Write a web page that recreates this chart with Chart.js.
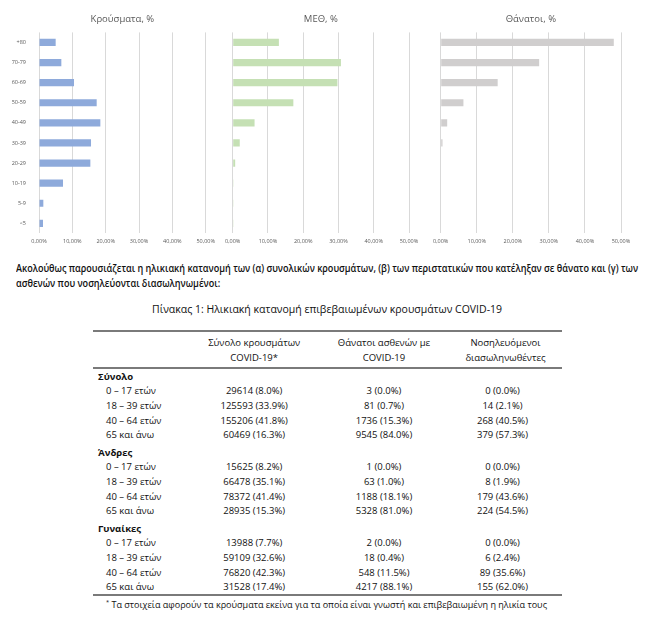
<!DOCTYPE html>
<html lang="el">
<head>
<meta charset="utf-8">
<script src="https://cdn.jsdelivr.net/npm/chart.js@4.4.1/dist/chart.umd.min.js"></script>
<style>
    body { margin: 0; background: #fff; font-family: "Open Sans", "Noto Sans", sans-serif; color: #111; }
    #page { position: relative; width: 650px; height: 628px; overflow: hidden; }
    canvas { position: absolute; top: 0; }
    .fit { position: absolute; white-space: nowrap; transform-origin: 0 50%; }
    #intro { left: 16px; top: 261px; font-size: 10px; font-weight: 600; line-height: 14.5px; }
    #table-title { top: 301px; font-size: 11px; font-weight: 500; }
    #stats { position: absolute; left: 93px; top: 330px; width: 469px; border-collapse: collapse; font-size: 9.5px; font-weight: 500; }
    #stats th { font-weight: 500; line-height: 15px; padding: 3px 0 2px; text-align: center; }
    #stats thead tr { border-top: 2px solid #7a7a7a; border-bottom: 2px solid #7a7a7a; }
    #stats tbody tr:last-child { border-bottom: 2px solid #7a7a7a; }
    #stats td { height: 14.6px; padding: 0; text-align: center; white-space: nowrap; }
    #stats td.lbl { text-align: left; padding-left: 13px; }
    #stats td.grp { font-weight: bold; padding-left: 5px; text-align: left; }
    #stats tr.gap td { padding-top: 3px; }
    #stats td.c3 { padding-right: 6px; }
    #footnote { left: 106px; top: 598px; font-size: 9.5px; font-weight: 500; }
    #footnote sup { font-size: 6px; }
</style>
</head>
<body>
<div id="page">
    <canvas id="cases-chart" width="220" height="255" style="left:0px"></canvas>
    <canvas id="icu-chart" width="208" height="255" style="left:220px"></canvas>
    <canvas id="deaths-chart" width="222" height="255" style="left:428px"></canvas>

    <div id="intro" class="fit" data-w="622">Ακολούθως παρουσιάζεται η ηλικιακή κατανομή των (α) συνολικών κρουσμάτων, (β) των περιστατικών που κατέληξαν σε θάνατο και (γ) των<br>ασθενών που νοσηλεύονται διασωληνωμένοι:</div>
    <div id="table-title" class="fit" data-w="350" data-cx="327">Πίνακας 1: Ηλικιακή κατανομή επιβεβαιωμένων κρουσμάτων COVID-19</div>

    <table id="stats">
        <thead><tr id="stats-head"></tr></thead>
        <tbody id="stats-body"></tbody>
    </table>
    <div id="footnote" class="fit" data-w="441"><sup>*</sup> Τα στοιχεία αφορούν τα κρούσματα εκείνα για τα οποία είναι γνωστή και επιβεβαιωμένη η ηλικία τους</div>
</div>

<script>
// age groups, top to bottom as in the charts
const ageGroups = ['+80', '70-79', '60-69', '50-59', '40-49', '30-39', '20-29', '10-19', '5-9', '<5'];
const casesPct = [5.0, 6.7, 10.5, 17.3, 18.4, 15.6, 15.4, 7.2, 1.3, 1.2];
const icuPct = [13.1, 30.7, 29.7, 17.2, 6.2, 2.0, 0.7, 0.2, 0.05, 0.05];
const deathsPct = [48.0, 27.3, 15.8, 6.3, 1.8, 0.5, 0, 0, 0, 0];
const xTicks = [0, 10, 20, 30, 40, 50];

// table 1
const tableHeaders = ['', 'Σύνολο κρουσμάτων<br>COVID-19*', 'Θάνατοι ασθενών με<br>COVID-19', 'Νοσηλευόμενοι<br>διασωληνωθέντες'];
const groups = ['Σύνολο', 'Άνδρες', 'Γυναίκες'];
const ageBands = ['0 – 17 ετών', '18 – 39 ετών', '40 – 64 ετών', '65 και άνω'];
const totalCases = ['29614 (8.0%)', '125593 (33.9%)', '155206 (41.8%)', '60469 (16.3%)'];
const totalDeaths = ['3 (0.0%)', '81 (0.7%)', '1736 (15.3%)', '9545 (84.0%)'];
const totalIntubated = ['0 (0.0%)', '14 (2.1%)', '268 (40.5%)', '379 (57.3%)'];
const menCases = ['15625 (8.2%)', '66478 (35.1%)', '78372 (41.4%)', '28935 (15.3%)'];
const menDeaths = ['1 (0.0%)', '63 (1.0%)', '1188 (18.1%)', '5328 (81.0%)'];
const menIntubated = ['0 (0.0%)', '8 (1.9%)', '179 (43.6%)', '224 (54.5%)'];
const womenCases = ['13988 (7.7%)', '59109 (32.6%)', '76820 (42.3%)', '31528 (17.4%)'];
const womenDeaths = ['2 (0.0%)', '18 (0.4%)', '548 (11.5%)', '4217 (88.1%)'];
const womenIntubated = ['0 (0.0%)', '6 (2.4%)', '89 (35.6%)', '155 (62.0%)'];

function makeBarChart(id, title, values, color, showLabels, yWidth, rightPad) {
    const ctx = document.getElementById(id).getContext('2d');
    return new Chart(ctx, {
        type: 'bar',
        data: {
            labels: ageGroups,
            datasets: [{
                data: values,
                backgroundColor: color,
                categoryPercentage: 1,
                barPercentage: 0.36
            }]
        },
        options: {
            indexAxis: 'y',
            responsive: false,
            animation: false,
            layout: { padding: { left: 0, right: rightPad, top: 0, bottom: 5 } },
            plugins: {
                legend: { display: false },
                tooltip: { enabled: false },
                title: {
                    display: true,
                    text: title,
                    fullSize: false,
                    color: '#595959',
                    font: { family: 'Open Sans', size: 9.5, weight: 'normal' },
                    padding: { top: 14, bottom: 7 }
                }
            },
            scales: {
                x: {
                    min: 0,
                    max: 50,
                    afterBuildTicks: scale => { scale.ticks = xTicks.map(v => ({ value: v })); },
                    grid: { color: '#d9d9d9', drawTicks: false },
                    border: { display: false },
                    ticks: {
                        padding: 5,
                        color: '#595959',
                        font: { family: 'Open Sans', size: 5.5 },
                        maxRotation: 0,
                        callback: v => v.toFixed(2).replace('.', ',') + '%'
                    }
                },
                y: {
                    grid: { display: false },
                    border: { display: false },
                    afterFit: scale => { scale.width = yWidth; },
                    ticks: {
                        display: showLabels,
                        padding: 5,
                        color: '#595959',
                        font: { family: 'Open Sans', size: 5.5 }
                    }
                }
            }
        }
    });
}

function buildTable() {
    document.getElementById('stats-head').innerHTML = tableHeaders.map(h => `<th>${h}</th>`).join('');
    const groupData = [
        [totalCases, totalDeaths, totalIntubated],
        [menCases, menDeaths, menIntubated],
        [womenCases, womenDeaths, womenIntubated]
    ];
    let html = '';
    groups.forEach((g, gi) => {
        html += `<tr class="${gi > 0 ? 'gap' : ''}"><td class="grp" colspan="4">${g}</td></tr>`;
        ageBands.forEach((band, i) => {
            const [c, d, n] = groupData[gi];
            html += `<tr><td class="lbl">${band}</td><td>${c[i]}</td><td>${d[i]}</td><td class="c3">${n[i]}</td></tr>`;
        });
    });
    document.getElementById('stats-body').innerHTML = html;
}

// squeeze the long text lines to the width they have in the report
function fitText() {
    document.querySelectorAll('.fit').forEach(el => {
        const natural = el.scrollWidth;
        const target = +el.dataset.w;
        const k = target / natural;
        el.style.transform = `scaleX(${k})`;
        if (el.dataset.cx) el.style.left = (+el.dataset.cx - target / 2) + 'px';
    });
}

makeBarChart('cases-chart', 'Κρούσματα, %', casesPct, '#8eaadb', true, 39, 12);
makeBarChart('icu-chart', 'ΜΕΘ, %', icuPct, '#c5e0b4', false, 12, 19);
makeBarChart('deaths-chart', 'Θάνατοι, %', deathsPct, '#d0cece', false, 10, 29);
buildTable();
fitText();
</script>
</body>
</html>
